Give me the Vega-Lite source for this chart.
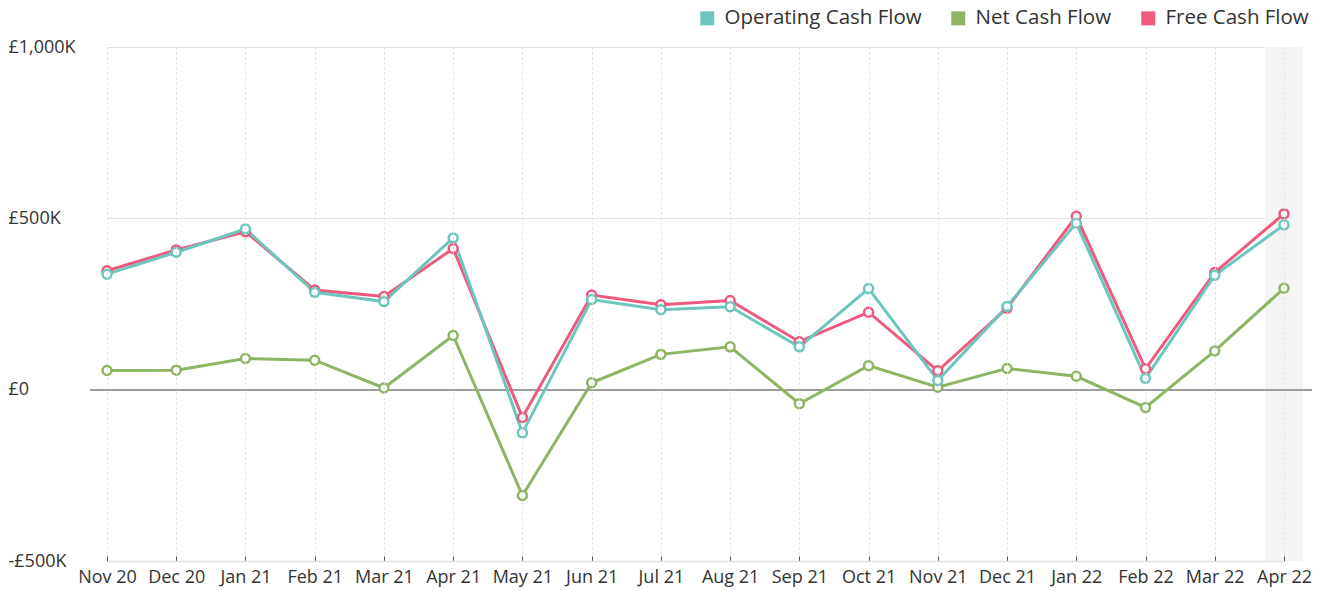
{
  "$schema": "https://vega.github.io/schema/vega-lite/v6.json",
  "width": 1222,
  "height": 514,
  "autosize": {"type": "none"},
  "padding": {"left": 90, "top": 47, "right": 16, "bottom": 30},
  "background": "white",
  "config": {
    "font": "Open Sans",
    "view": {"stroke": null},
    "axis": {"labelFont": "Open Sans", "labelColor": "#333333", "labelFontSize": 18, "title": null}
  },
  "data": {"values": [
    {"month": "Nov 20", "series": "Net Cash Flow", "value": 56},
    {"month": "Dec 20", "series": "Net Cash Flow", "value": 57},
    {"month": "Jan 21", "series": "Net Cash Flow", "value": 91},
    {"month": "Feb 21", "series": "Net Cash Flow", "value": 86},
    {"month": "Mar 21", "series": "Net Cash Flow", "value": 5},
    {"month": "Apr 21", "series": "Net Cash Flow", "value": 158},
    {"month": "May 21", "series": "Net Cash Flow", "value": -309},
    {"month": "Jun 21", "series": "Net Cash Flow", "value": 20},
    {"month": "Jul 21", "series": "Net Cash Flow", "value": 103},
    {"month": "Aug 21", "series": "Net Cash Flow", "value": 125},
    {"month": "Sep 21", "series": "Net Cash Flow", "value": -41},
    {"month": "Oct 21", "series": "Net Cash Flow", "value": 70},
    {"month": "Nov 21", "series": "Net Cash Flow", "value": 7},
    {"month": "Dec 21", "series": "Net Cash Flow", "value": 62},
    {"month": "Jan 22", "series": "Net Cash Flow", "value": 39},
    {"month": "Feb 22", "series": "Net Cash Flow", "value": -52},
    {"month": "Mar 22", "series": "Net Cash Flow", "value": 113},
    {"month": "Apr 22", "series": "Net Cash Flow", "value": 296},
    {"month": "Nov 20", "series": "Free Cash Flow", "value": 347},
    {"month": "Dec 20", "series": "Free Cash Flow", "value": 408},
    {"month": "Jan 21", "series": "Free Cash Flow", "value": 461},
    {"month": "Feb 21", "series": "Free Cash Flow", "value": 291},
    {"month": "Mar 21", "series": "Free Cash Flow", "value": 272},
    {"month": "Apr 21", "series": "Free Cash Flow", "value": 412},
    {"month": "May 21", "series": "Free Cash Flow", "value": -81},
    {"month": "Jun 21", "series": "Free Cash Flow", "value": 276},
    {"month": "Jul 21", "series": "Free Cash Flow", "value": 248},
    {"month": "Aug 21", "series": "Free Cash Flow", "value": 260},
    {"month": "Sep 21", "series": "Free Cash Flow", "value": 140},
    {"month": "Oct 21", "series": "Free Cash Flow", "value": 226},
    {"month": "Nov 21", "series": "Free Cash Flow", "value": 55},
    {"month": "Dec 21", "series": "Free Cash Flow", "value": 238},
    {"month": "Jan 22", "series": "Free Cash Flow", "value": 506},
    {"month": "Feb 22", "series": "Free Cash Flow", "value": 61},
    {"month": "Mar 22", "series": "Free Cash Flow", "value": 342},
    {"month": "Apr 22", "series": "Free Cash Flow", "value": 513},
    {"month": "Nov 20", "series": "Operating Cash Flow", "value": 337},
    {"month": "Dec 20", "series": "Operating Cash Flow", "value": 401},
    {"month": "Jan 21", "series": "Operating Cash Flow", "value": 469},
    {"month": "Feb 21", "series": "Operating Cash Flow", "value": 284},
    {"month": "Mar 21", "series": "Operating Cash Flow", "value": 257},
    {"month": "Apr 21", "series": "Operating Cash Flow", "value": 443},
    {"month": "May 21", "series": "Operating Cash Flow", "value": -126},
    {"month": "Jun 21", "series": "Operating Cash Flow", "value": 263},
    {"month": "Jul 21", "series": "Operating Cash Flow", "value": 233},
    {"month": "Aug 21", "series": "Operating Cash Flow", "value": 242},
    {"month": "Sep 21", "series": "Operating Cash Flow", "value": 125},
    {"month": "Oct 21", "series": "Operating Cash Flow", "value": 295},
    {"month": "Nov 21", "series": "Operating Cash Flow", "value": 27},
    {"month": "Dec 21", "series": "Operating Cash Flow", "value": 243},
    {"month": "Jan 22", "series": "Operating Cash Flow", "value": 486},
    {"month": "Feb 22", "series": "Operating Cash Flow", "value": 33},
    {"month": "Mar 22", "series": "Operating Cash Flow", "value": 334},
    {"month": "Apr 22", "series": "Operating Cash Flow", "value": 481}
  ]},
  "encoding": {
    "x": {
      "field": "month",
      "type": "ordinal",
      "sort": null,
      "scale": {
        "type": "point",
        "domain": ["Nov 20", "Dec 20", "Jan 21", "Feb 21", "Mar 21", "Apr 21", "May 21", "Jun 21", "Jul 21", "Aug 21", "Sep 21", "Oct 21", "Nov 21", "Dec 21", "Jan 22", "Feb 22", "Mar 22", "Apr 22"],
        "range": [17, 1194],
        "padding": 0
      },
      "axis": {
        "labelAngle": 0,
        "grid": true,
        "gridDash": [2, 3],
        "gridColor": "#dddddd",
        "domainColor": "#e0e0e0",
        "domainWidth": 1.5,
        "tickColor": "#555555",
        "tickSize": -5,
        "labelPadding": 12
      }
    }
  },
  "layer": [
    {
      "transform": [{"filter": "datum.month == 'Apr 22' && datum.series == 'Net Cash Flow'"}],
      "mark": {"type": "rect", "color": "#f5f5f5", "width": 38},
      "encoding": {
        "y": {"datum": -500, "type": "quantitative"},
        "y2": {"datum": 1000}
      }
    },
    {
      "mark": {"type": "rule", "color": "#9e9e9e", "strokeWidth": 1.5},
      "encoding": {"x": null, "y": {"datum": 0, "type": "quantitative"}}
    },
    {
      "mark": {
        "type": "line",
        "strokeWidth": 3,
        "point": {"filled": false, "fill": "white", "size": 80, "strokeWidth": 2.5}
      },
      "encoding": {
        "y": {
          "field": "value",
          "type": "quantitative",
          "scale": {"domain": [-500, 1000], "nice": false, "zero": false},
          "axis": {
            "values": [-500, 0, 500, 1000],
            "labelExpr": "datum.value == 0 ? '£0' : (datum.value < 0 ? '-£' : '£') + format(abs(datum.value), ',') + 'K'",
            "ticks": false,
            "domain": false,
            "grid": true,
            "gridColor": "#e2e2e2",
            "labelAlign": "left",
            "labelPadding": 82
          }
        },
        "color": {
          "field": "series",
          "type": "nominal",
          "scale": {
            "domain": ["Operating Cash Flow", "Net Cash Flow", "Free Cash Flow"],
            "range": ["#6cc6bd", "#8db563", "#ee5a7e"]
          },
          "legend": {
            "title": null,
            "orient": "none",
            "legendX": 607,
            "legendY": -39,
            "direction": "horizontal",
            "symbolType": "square",
            "symbolSize": 196,
            "labelFontSize": 20.5,
            "labelColor": "#333333",
            "labelFont": "Open Sans",
            "labelLimit": 0,
            "labelOffset": 7,
            "columnPadding": 26,
            "encode": {
              "symbols": {"update": {"fill": {"scale": "color", "field": "value"}, "stroke": {"value": "transparent"}, "strokeWidth": {"value": 0}}}
            }
          }
        }
      }
    }
  ]
}
